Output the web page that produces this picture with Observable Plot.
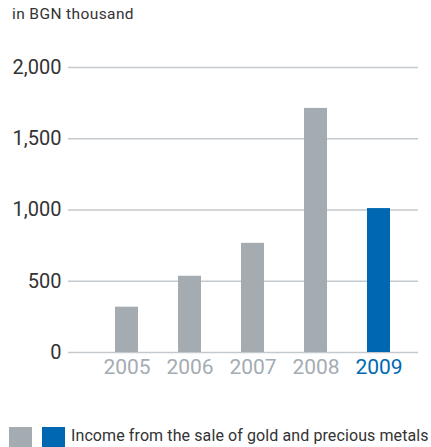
<!DOCTYPE html>
<html>
<head>
<meta charset="utf-8">
<script src="https://cdn.jsdelivr.net/npm/d3@7"></script>
<script src="https://cdn.jsdelivr.net/npm/@observablehq/plot@0.6"></script>
<style>
  html, body { margin: 0; padding: 0; background: #fff; overflow: hidden; }
  body { width: 431px; height: 447px; font-family: Roboto, "Noto Sans", sans-serif; color: #333; position: relative; }
  #title { position: absolute; left: 12px; top: 5px; font-size: 15.5px; letter-spacing: 0.4px; color: #333; white-space: nowrap; }
  #chart { position: absolute; left: 0; top: 40px; }
  #legend { position: absolute; left: 9px; top: 427px; display: flex; align-items: flex-start; white-space: nowrap; }
  .sw { width: 23px; height: 20px; margin-right: 10px; }
  .sw + .sw { margin-right: 6px; }
  #legend span { font-size: 16px; letter-spacing: 0.1px; color: #333; line-height: 16px; margin-top: 1px; }
</style>
</head>
<body>
<div id="title">in BGN thousand</div>
<div id="chart"></div>
<div id="legend">
  <div class="sw" style="background:#a4acb2"></div>
  <div class="sw" style="background:#0068b3"></div>
  <span>Income from the sale of gold and precious metals</span>
</div>
<script>
const years = ["2005", "2006", "2007", "2008", "2009"];
const values = [318, 535, 766, 1713, 1010];
const yTicks = [0, 500, 1000, 1500, 2000];
const highlightYear = "2009";

const grey = "#a4acb2";
const blue = "#0068b3";
const data = years.map((year, i) => ({year, value: values[i]}));

const chart = Plot.plot({
  width: 431,
  height: 350,
  marginLeft: 68,
  marginRight: 13,
  marginTop: 27,
  marginBottom: 38,
  style: {fontFamily: "Roboto, 'Noto Sans', sans-serif", background: "#fff"},
  x: {domain: years, paddingInner: 0.64, paddingOuter: 0.5547, align: 0.62, label: null},
  y: {domain: [0, 2000], label: null},
  color: {type: "identity"},
  marks: [
    Plot.ruleY(yTicks, {stroke: "#c3c9cd", strokeWidth: 1.5}),
    Plot.barY(data, {x: "year", y: "value", fill: d => d.year === highlightYear ? blue : grey}),
    Plot.axisY({ticks: yTicks, tickSize: 0, tickPadding: 7, fontSize: 20, fill: "#333", tickFormat: d3.format(",")}),
    Plot.axisX({tickSize: 0, tickPadding: 7, fontSize: 21, fill: d => d === highlightYear ? blue : grey})
  ]
});
document.getElementById("chart").appendChild(chart);
</script>
</body>
</html>
